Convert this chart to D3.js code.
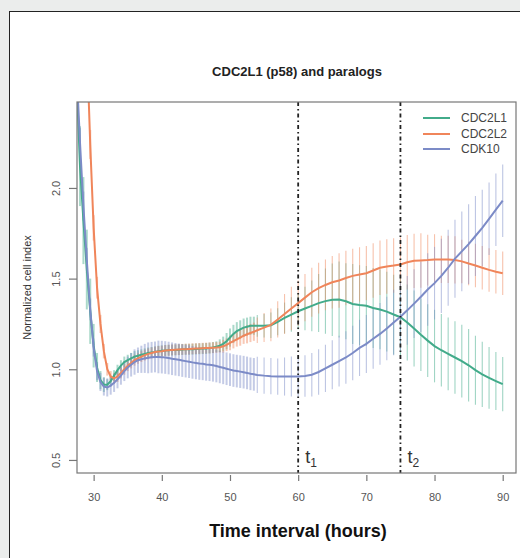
<!DOCTYPE html>
<html>
<head>
<meta charset="utf-8">
<script src="https://cdn.jsdelivr.net/npm/d3@7"></script>
<style>
  body { margin: 0; background: #ebedec; }
  svg { display: block; }
</style>
</head>
<body>
<svg id="chart"></svg>
<script>
// time points: half-hour steps up to 53.5 h, then hourly
const times = [
  27.5, 28, 28.5, 29, 29.5, 30, 30.5, 31, 31.5, 32, 32.5, 33, 33.5, 34, 34.5, 35, 35.5, 36, 36.5, 37, 37.5,
  38, 38.5, 39, 39.5, 40, 40.5, 41, 41.5, 42, 42.5, 43, 43.5, 44, 44.5, 45, 45.5, 46, 46.5, 47, 47.5,
  48, 48.5, 49, 49.5, 50, 50.5, 51, 51.5, 52, 52.5, 53, 53.5,
  54, 55, 56, 57, 58, 59, 60, 61, 62, 63, 64, 65, 66, 67, 68, 69, 70, 71, 72, 73,
  74, 75, 76, 77, 78, 79, 80, 81, 82, 83, 84, 85, 86, 87, 88, 89, 90
];

const cdc2l1Mean = [
  2.6, 2.12, 1.82, 1.55, 1.32, 1.13, 1.01, 0.94, 0.915, 0.915, 0.935, 0.965, 0.995, 1.02, 1.04, 1.05, 1.06, 1.07, 1.075, 1.08, 1.085,
  1.09, 1.093, 1.096, 1.10, 1.102, 1.104, 1.105, 1.106, 1.107, 1.108, 1.109, 1.11, 1.11, 1.111, 1.112, 1.113, 1.114, 1.115, 1.117, 1.12,
  1.124, 1.13, 1.14, 1.155, 1.175, 1.195, 1.21, 1.22, 1.23, 1.235, 1.24, 1.24,
  1.24, 1.24, 1.243, 1.262, 1.283, 1.302, 1.32, 1.335, 1.35, 1.365, 1.376, 1.384, 1.385, 1.375, 1.36, 1.354, 1.35, 1.338, 1.33, 1.318,
  1.302, 1.287, 1.258, 1.225, 1.19, 1.158, 1.128, 1.105, 1.085, 1.065, 1.045, 1.022, 0.995, 0.972, 0.953, 0.935, 0.918
];
const cdc2l1Err = [
  0.2, 0.22, 0.24, 0.22, 0.18, 0.12, 0.08, 0.05, 0.04, 0.03, 0.03, 0.03, 0.03, 0.03, 0.03, 0.03, 0.03, 0.03, 0.03, 0.03, 0.03,
  0.03, 0.03, 0.03, 0.03, 0.03, 0.03, 0.03, 0.03, 0.03, 0.03, 0.03, 0.03, 0.03, 0.03, 0.03, 0.03, 0.03, 0.03, 0.03, 0.03,
  0.03, 0.035, 0.04, 0.045, 0.05, 0.05, 0.05, 0.05, 0.05, 0.05, 0.05, 0.05,
  0.06, 0.065, 0.07, 0.075, 0.085, 0.095, 0.10, 0.12, 0.14, 0.16, 0.18, 0.20, 0.21, 0.21, 0.22, 0.22, 0.22, 0.22, 0.22, 0.22,
  0.22, 0.22, 0.21, 0.21, 0.2, 0.2, 0.2, 0.2, 0.2, 0.2, 0.2, 0.2, 0.19, 0.18, 0.17, 0.16, 0.15
];

const cdc2l2Mean = [
  3.5, 3.2, 2.95, 2.80, 2.24, 1.78, 1.45, 1.25, 1.10, 1.0, 0.96, 0.95, 0.96, 0.98, 1.0, 1.02, 1.035, 1.05, 1.06, 1.07, 1.078,
  1.085, 1.09, 1.095, 1.098, 1.10, 1.103, 1.105, 1.107, 1.108, 1.109, 1.11, 1.111, 1.112, 1.113, 1.114, 1.115, 1.116, 1.117, 1.118, 1.119,
  1.12, 1.122, 1.127, 1.135, 1.145, 1.155, 1.165, 1.175, 1.185, 1.193, 1.2, 1.207,
  1.215, 1.23, 1.245, 1.275, 1.305, 1.335, 1.365, 1.395, 1.425, 1.448, 1.465, 1.48, 1.49, 1.503, 1.515, 1.523, 1.53, 1.545, 1.56, 1.567,
  1.572, 1.578, 1.59, 1.598, 1.60, 1.602, 1.605, 1.606, 1.606, 1.603, 1.595, 1.583, 1.572, 1.56, 1.548, 1.538, 1.53
];
const cdc2l2Err = [
  0.08, 0.08, 0.08, 0.08, 0.08, 0.07, 0.06, 0.05, 0.04, 0.035, 0.03, 0.03, 0.03, 0.03, 0.03, 0.03, 0.03, 0.03, 0.03, 0.03, 0.03,
  0.03, 0.03, 0.03, 0.03, 0.03, 0.03, 0.03, 0.03, 0.03, 0.03, 0.03, 0.03, 0.03, 0.03, 0.03, 0.03, 0.03, 0.03, 0.03, 0.03,
  0.03, 0.03, 0.035, 0.035, 0.04, 0.04, 0.04, 0.045, 0.045, 0.05, 0.05, 0.05,
  0.07, 0.08, 0.09, 0.10, 0.11, 0.12, 0.125, 0.13, 0.135, 0.14, 0.14, 0.145, 0.15, 0.15, 0.15, 0.15, 0.15, 0.15, 0.15, 0.15,
  0.15, 0.15, 0.15, 0.15, 0.15, 0.14, 0.14, 0.13, 0.13, 0.13, 0.12, 0.12, 0.12, 0.12, 0.12, 0.12, 0.12
];

const cdk10Mean = [
  2.65, 2.25, 1.9, 1.6, 1.33, 1.12, 0.99, 0.93, 0.905, 0.90, 0.91, 0.925, 0.945, 0.965, 0.99, 1.01, 1.025, 1.04, 1.05, 1.055, 1.06,
  1.063, 1.066, 1.068, 1.068, 1.067, 1.065, 1.062, 1.058, 1.055, 1.052, 1.048, 1.045, 1.042, 1.038, 1.035, 1.032, 1.03, 1.027, 1.025, 1.022,
  1.018, 1.013, 1.008, 1.003, 0.998, 0.993, 0.99, 0.987, 0.984, 0.98, 0.975, 0.972,
  0.969, 0.965, 0.962, 0.96, 0.96, 0.96, 0.96, 0.963, 0.97, 0.985, 1.005, 1.025, 1.045, 1.065, 1.09, 1.118, 1.14, 1.168, 1.195, 1.225,
  1.258, 1.29, 1.325, 1.362, 1.40, 1.44, 1.475, 1.515, 1.56, 1.61, 1.65, 1.69, 1.735, 1.78, 1.83, 1.88, 1.93
];
const cdk10Err = [
  0.08, 0.08, 0.08, 0.07, 0.06, 0.05, 0.05, 0.05, 0.05, 0.05, 0.05, 0.05, 0.05, 0.05, 0.055, 0.06, 0.065, 0.07, 0.07, 0.075, 0.08,
  0.085, 0.085, 0.085, 0.09, 0.09, 0.09, 0.09, 0.09, 0.09, 0.09, 0.09, 0.09, 0.09, 0.09, 0.09, 0.09, 0.09, 0.09, 0.09, 0.09,
  0.09, 0.09, 0.09, 0.09, 0.09, 0.09, 0.09, 0.09, 0.09, 0.09, 0.09, 0.09,
  0.10, 0.10, 0.10, 0.10, 0.105, 0.11, 0.11, 0.115, 0.12, 0.125, 0.13, 0.135, 0.14, 0.145, 0.15, 0.155, 0.16, 0.165, 0.17, 0.175,
  0.18, 0.185, 0.19, 0.19, 0.195, 0.2, 0.2, 0.205, 0.21, 0.215, 0.22, 0.22, 0.22, 0.21, 0.2, 0.2, 0.2
];

const seriesNames = ["CDC2L1", "CDC2L2", "CDK10"];
const seriesColors = ["#42ab8a", "#f0855a", "#7c8bc7"];
const xTicks = [30, 40, 50, 60, 70, 80, 90];
const yTicks = [0.5, 1.0, 1.5, 2.0];
const markerTimes = [60, 75];
const markerLabels = ["1", "2"];

const width = 520;
const height = 558;
const plot = { left: 77, right: 516, top: 102, bottom: 473 };

const svg = d3.select("#chart")
    .attr("width", width)
    .attr("height", height);

// white panel with dark border on the left / top
svg.append("rect")
    .attr("x", 9.5)
    .attr("y", 11.5)
    .attr("width", width)
    .attr("height", height)
    .attr("fill", "#fff")
    .attr("stroke", "#222")
    .attr("stroke-width", 1);

const x = d3.scaleLinear()
    .domain([27.56, 91.95])
    .range([plot.left, plot.right]);

const y = d3.scaleLinear()
    .domain([0.428, 2.474])
    .range([plot.bottom, plot.top]);

svg.append("defs").append("clipPath")
    .attr("id", "plot-clip")
    .append("rect")
    .attr("x", plot.left)
    .attr("y", plot.top)
    .attr("width", plot.right - plot.left)
    .attr("height", plot.bottom - plot.top);

const series = [
    { name: seriesNames[0], color: seriesColors[0], mean: cdc2l1Mean, err: cdc2l1Err },
    { name: seriesNames[1], color: seriesColors[1], mean: cdc2l2Mean, err: cdc2l2Err },
    { name: seriesNames[2], color: seriesColors[2], mean: cdk10Mean, err: cdk10Err }
];

const plotG = svg.append("g").attr("clip-path", "url(#plot-clip)");

// error bars first (wider where the sampling is dense)
series.forEach(s => {
    plotG.append("g")
        .selectAll("line")
        .data(times.map((t, i) => ({ t: t, m: s.mean[i], e: s.err[i] })))
        .enter().append("line")
        .attr("x1", d => x(d.t))
        .attr("x2", d => x(d.t))
        .attr("y1", d => y(d.m - d.e))
        .attr("y2", d => y(d.m + d.e))
        .attr("stroke", s.color)
        .attr("stroke-width", d => d.t < 54 ? 2 : 1.1)
        .attr("stroke-opacity", d => d.t < 54 ? 0.45 : 0.5);
});

const line = d3.line()
    .x(d => x(d[0]))
    .y(d => y(d[1]));

series.forEach(s => {
    plotG.append("path")
        .datum(times.map((t, i) => [t, s.mean[i]]))
        .attr("d", line)
        .attr("fill", "none")
        .attr("stroke", s.color)
        .attr("stroke-width", 2);
});

// t1 / t2 dot-dash markers
markerTimes.forEach((t, i) => {
    svg.append("line")
        .attr("x1", x(t))
        .attr("x2", x(t))
        .attr("y1", plot.top)
        .attr("y2", plot.bottom)
        .attr("stroke", "#222")
        .attr("stroke-width", 1.8)
        .attr("stroke-dasharray", "4,3,1.5,3");

    const lab = svg.append("text")
        .attr("x", x(t) + 7)
        .attr("y", 463)
        .style("font-family", "Liberation Sans, Arial, sans-serif")
        .style("font-size", "18px")
        .style("fill", "#333");
    lab.append("tspan").text("t");
    lab.append("tspan")
        .attr("dy", 4)
        .style("font-size", "12px")
        .text(markerLabels[i]);
});

// box
svg.append("rect")
    .attr("x", plot.left)
    .attr("y", plot.top)
    .attr("width", plot.right - plot.left)
    .attr("height", plot.bottom - plot.top)
    .attr("fill", "none")
    .attr("stroke", "#777")
    .attr("stroke-width", 1.2);

// x axis
const xAxis = svg.append("g")
    .attr("transform", `translate(0, ${plot.bottom + 2})`)
    .call(d3.axisBottom(x).tickValues(xTicks).tickSize(6).tickPadding(12).tickFormat(d3.format("d")));
xAxis.select(".domain").remove();
xAxis.selectAll(".tick line").attr("stroke", "#777").attr("stroke-width", 1.2);
xAxis.selectAll(".tick text")
    .style("font-family", "Liberation Sans, Arial, sans-serif")
    .style("font-size", "11px")
    .style("fill", "#555");

// y axis (labels rotated like base R)
const yAxis = svg.append("g")
    .attr("transform", `translate(${plot.left}, 0)`)
    .call(d3.axisLeft(y).tickValues(yTicks).tickSize(8).tickFormat(d3.format(".1f")));
yAxis.select(".domain").remove();
yAxis.selectAll(".tick line").attr("stroke", "#777").attr("stroke-width", 1.2);
yAxis.selectAll(".tick text")
    .attr("x", null)
    .attr("dy", null)
    .attr("text-anchor", "middle")
    .attr("transform", "translate(-17, 0) rotate(-90)")
    .style("font-family", "Liberation Sans, Arial, sans-serif")
    .style("font-size", "11px")
    .style("fill", "#555");

svg.append("text")
    .attr("transform", `translate(31, ${(plot.top + plot.bottom) / 2}) rotate(-90)`)
    .attr("text-anchor", "middle")
    .style("font-family", "Liberation Sans, Arial, sans-serif")
    .style("font-size", "11px")
    .style("fill", "#333")
    .text("Normalized cell index");

svg.append("text")
    .attr("x", 297)
    .attr("y", 76)
    .attr("text-anchor", "middle")
    .style("font-family", "Liberation Sans, Arial, sans-serif")
    .style("font-size", "13px")
    .style("font-weight", "bold")
    .style("fill", "#222")
    .text("CDC2L1 (p58) and paralogs");

svg.append("text")
    .attr("x", 298)
    .attr("y", 537)
    .attr("text-anchor", "middle")
    .style("font-family", "Liberation Sans, Arial, sans-serif")
    .style("font-size", "18px")
    .style("font-weight", "bold")
    .style("fill", "#111")
    .text("Time interval (hours)");

// legend, no frame
const legendRows = [118, 134, 149];
series.forEach((s, i) => {
    svg.append("line")
        .attr("x1", 423)
        .attr("x2", 450)
        .attr("y1", legendRows[i])
        .attr("y2", legendRows[i])
        .attr("stroke", s.color)
        .attr("stroke-width", 2);

    svg.append("text")
        .attr("x", 461)
        .attr("y", legendRows[i])
        .attr("dy", "0.35em")
        .style("font-family", "Liberation Sans, Arial, sans-serif")
        .style("font-size", "12px")
        .style("fill", "#444")
        .text(s.name);
});
</script>
</body>
</html>
